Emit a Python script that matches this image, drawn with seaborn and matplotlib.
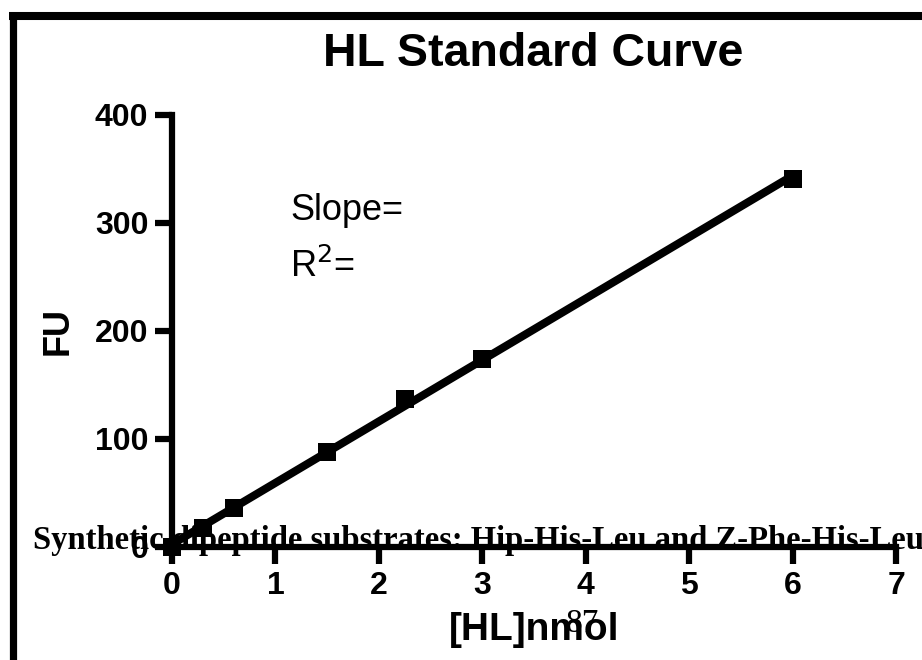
import matplotlib
matplotlib.use("Agg")
import matplotlib.pyplot as plt
import seaborn as sns
import pandas as pd
from matplotlib.lines import Line2D

# Data
hl_nmol = [0, 0.3, 0.6, 1.5, 2.25, 3, 6]
fu = [0, 18, 36, 88, 137, 174, 341]
x_ticks = [0, 1, 2, 3, 4, 5, 6, 7]
y_ticks = [0, 100, 200, 300, 400]

df = pd.DataFrame({"HL": hl_nmol, "FU": fu})

sns.set_theme(style="white")
plt.rcParams["font.family"] = ["Liberation Sans", "DejaVu Sans"]
plt.rcParams["text.color"] = "black"
plt.rcParams["axes.labelcolor"] = "black"
plt.rcParams["xtick.color"] = "black"
plt.rcParams["ytick.color"] = "black"

fig = plt.figure(figsize=(9.22, 6.6), dpi=100)
ax = fig.add_axes([172 / 922, 1 - 547 / 660, (896 - 172) / 922, (547 - 115) / 660])

sns.regplot(data=df, x="HL", y="FU", ax=ax, ci=None, marker="s", color="black",
            scatter_kws={"s": 175, "clip_on": False, "zorder": 4, "linewidths": 0, "alpha": 1},
            line_kws={"lw": 5.8, "solid_capstyle": "butt", "zorder": 3, "clip_on": False})

ax.set_xlim(0, 7)
ax.set_ylim(0, 400)
ax.set_xticks(x_ticks)
ax.set_yticks(y_ticks)
for side in ["top", "right"]:
    ax.spines[side].set_visible(False)
for side in ["left", "bottom"]:
    ax.spines[side].set_linewidth(4.5)
    ax.spines[side].set_color("black")
ax.tick_params(axis="both", direction="out", length=12, width=4.5, colors="black",
               labelsize=23, pad=5, bottom=True, left=True)
for lab in ax.get_xticklabels() + ax.get_yticklabels():
    lab.set_fontweight("bold")

ax.set_xlabel("[HL]nmol", fontsize=28, fontweight="bold", labelpad=8)
ax.set_ylabel("FU", fontsize=26, fontweight="bold", labelpad=14)

fig.text(533 / 922, 1 - 54 / 660, "HL Standard Curve", fontsize=33.5, fontweight="bold",
         ha="center", va="center")

ax.text(1.14, 303, "Slope=", fontsize=26, ha="left", va="baseline")
ax.text(1.14, 250, "R$^2$=", fontsize=26, ha="left", va="baseline")

# overlaid page text
fig.text(33 / 922, 1 - 549 / 660,
         "Synthetic dipeptide substrates: Hip-His-Leu and Z-Phe-His-Leu",
         fontsize=23.5, fontweight="bold", family=["Liberation Serif", "DejaVu Serif"],
         ha="left", va="baseline", zorder=10)
fig.text(582 / 922, 1 - 632 / 660, "87", fontsize=24,
         family=["Liberation Serif", "DejaVu Serif"], ha="center", va="baseline", zorder=10)

# page frame
fig.add_artist(Line2D([9 / 922, 1.0], [1 - 16 / 660, 1 - 16 / 660], color="black",
                      lw=5.8, solid_capstyle="butt", transform=fig.transFigure))
fig.add_artist(Line2D([12.5 / 922, 12.5 / 922], [0, 1 - 12 / 660], color="black",
                      lw=5.2, solid_capstyle="butt", transform=fig.transFigure))

fig.savefig("out.png", dpi=100)
